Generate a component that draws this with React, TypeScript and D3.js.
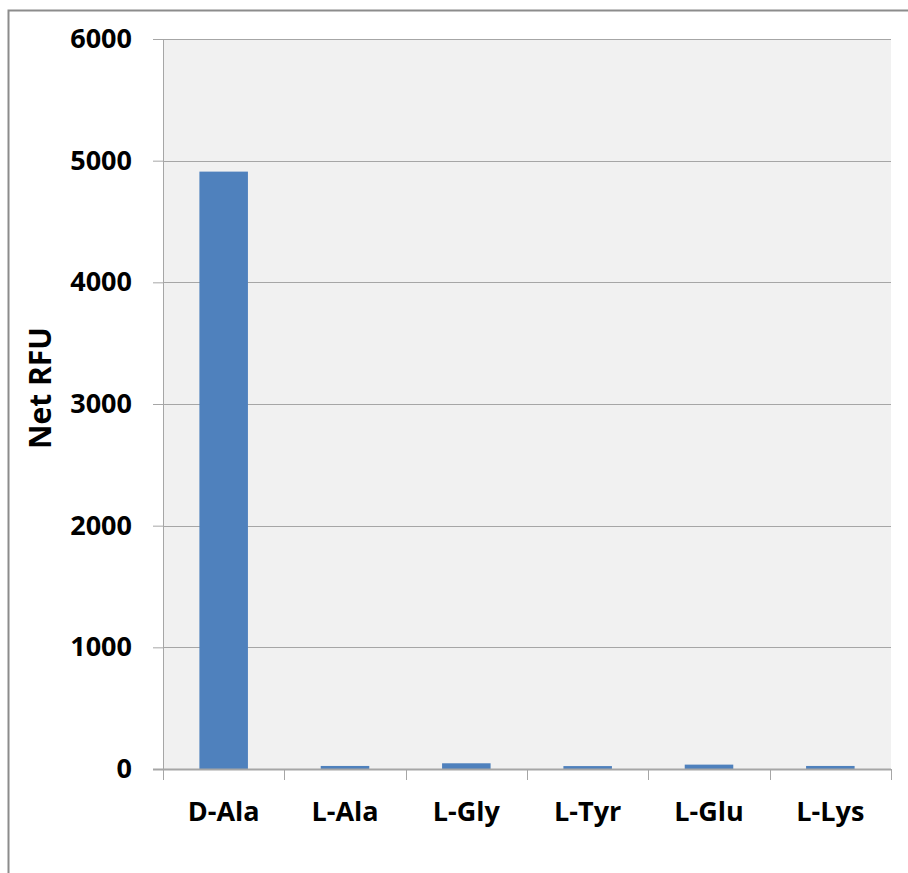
import React, { useRef, useEffect } from 'react';
import * as d3 from 'd3';

const categories = ['D-Ala', 'L-Ala', 'L-Gly', 'L-Tyr', 'L-Glu', 'L-Lys'];
const values = [4910, 25, 47, 24, 36, 25];
const yTicks = [0, 1000, 2000, 3000, 4000, 5000, 6000];

const W = 908;
const H = 873;
const margin = { top: 39, right: 17, bottom: 104, left: 163 };

export default function App() {
  const svgRef = useRef<SVGSVGElement>(null);

  useEffect(() => {
    const svg = d3.select(svgRef.current);
    svg.selectAll('*').remove();

    const innerW = W - margin.left - margin.right;
    const innerH = H - margin.top - margin.bottom;

    // outer chart border (runs off the right/bottom edge)
    svg.append('rect')
      .attr('x', 8.5).attr('y', 10.5)
      .attr('width', 920).attr('height', 900)
      .attr('fill', '#fff')
      .attr('stroke', '#8c8c8c')
      .attr('stroke-width', 2);

    const g = svg.append('g')
      .attr('transform', `translate(${margin.left},${margin.top})`);

    const x = d3.scaleBand()
      .domain(categories)
      .range([0, innerW])
      .paddingInner(0.6)
      .paddingOuter(0.3);

    const y = d3.scaleLinear()
      .domain([0, 6000])
      .range([innerH, 0]);

    g.append('rect')
      .attr('width', innerW)
      .attr('height', innerH)
      .attr('fill', '#f1f1f1');

    // gridlines
    g.selectAll('line.grid')
      .data(yTicks.filter(d => d > 0))
      .join('line')
      .attr('class', 'grid')
      .attr('x1', 0).attr('x2', innerW)
      .attr('y1', d => Math.round(y(d)) + 0.5)
      .attr('y2', d => Math.round(y(d)) + 0.5)
      .attr('stroke', '#a6a6a6')
      .attr('stroke-width', 1);

    g.selectAll('rect.bar')
      .data(values)
      .join('rect')
      .attr('class', 'bar')
      .attr('x', (d, i) => x(categories[i])!)
      .attr('width', x.bandwidth())
      .attr('y', d => y(d))
      .attr('height', d => innerH - y(d))
      .attr('fill', '#4f81bd');

    const font = "'Open Sans', sans-serif";

    // y axis
    const yAxis = g.append('g')
      .call(d3.axisLeft(y).tickValues(yTicks).tickSize(10).tickPadding(21).tickFormat(d3.format('d')));
    yAxis.select('.domain').attr('stroke', '#a6a6a6').attr('d', `M0.5,0V${innerH}`);
    yAxis.selectAll('.tick line').attr('stroke', '#a6a6a6');
    yAxis.selectAll('.tick text')
      .attr('font-family', font)
      .attr('font-weight', 'bold')
      .attr('font-size', 27)
      .attr('fill', '#000');
    yAxis.attr('font-family', null);

    // x axis with ticks at band boundaries
    const xAxis = g.append('g').attr('transform', `translate(0,${innerH})`);
    xAxis.append('line')
      .attr('x1', -10).attr('x2', innerW)
      .attr('y1', 0.5).attr('y2', 0.5)
      .attr('stroke', '#a6a6a6').attr('stroke-width', 2);
    const step = x.step();
    const bounds = d3.range(categories.length + 1).map(i => i * step);
    xAxis.selectAll('line.xt')
      .data(bounds)
      .join('line')
      .attr('class', 'xt')
      .attr('x1', d => Math.round(d) + 0.5).attr('x2', d => Math.round(d) + 0.5)
      .attr('y1', 0).attr('y2', 11)
      .attr('stroke', '#a6a6a6');
    xAxis.selectAll('text')
      .data(categories)
      .join('text')
      .attr('x', d => x(d)! + x.bandwidth() / 2)
      .attr('y', 52)
      .attr('text-anchor', 'middle')
      .attr('font-family', font)
      .attr('font-weight', 'bold')
      .attr('font-size', 27)
      .text(d => d);

    svg.append('text')
      .attr('transform', 'translate(51,388) rotate(-90)')
      .attr('text-anchor', 'middle')
      .attr('font-family', font)
      .attr('font-weight', 'bold')
      .attr('font-size', 30)
      .text('Net RFU');
  }, []);

  return (
    <svg
      ref={svgRef}
      width={W}
      height={H}
      style={{ position: 'absolute', left: 0, top: 0, background: '#fff' }}
    />
  );
}
